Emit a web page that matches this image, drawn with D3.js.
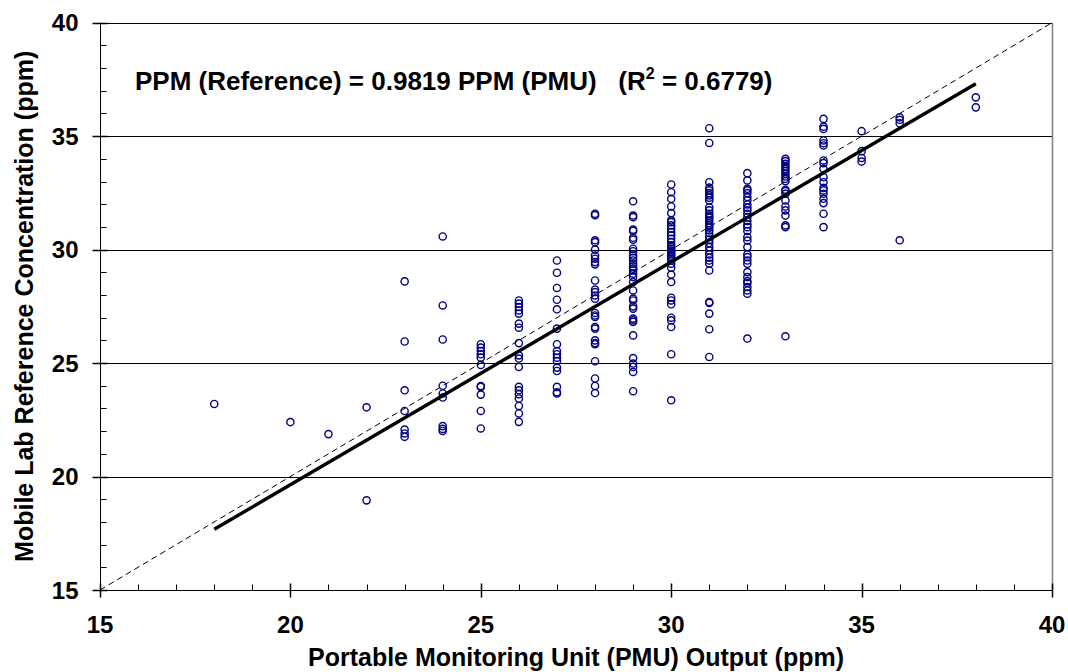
<!DOCTYPE html>
<html>
<head>
<meta charset="utf-8">
<script src="https://cdn.jsdelivr.net/npm/d3@7"></script>
<style>
  html, body { margin: 0; padding: 0; background: #fff; }
  svg { display: block; }
  text { font-family: "Liberation Sans", Arial, sans-serif; font-weight: bold; fill: #000; }
</style>
</head>
<body>
<svg id="chart" width="1068" height="672"></svg>
<script>
// ---- Data ----
const pmuLevels = [18, 20, 21, 22, 23, 24, 25, 26, 27, 28, 29, 30, 31, 32, 33, 34, 35, 36, 38];
const refByLevel = [
  [23.2],
  [22.4],
  [21.87],
  [23.05, 18.95],
  [28.6, 25.95, 23.8, 22.89, 22.07, 21.9, 21.75],
  [30.58, 27.54, 26.04, 24.0, 23.66, 23.48, 22.22, 22.1, 22.01],
  [25.83, 25.68, 25.53, 25.39, 25.24, 24.92, 23.99, 23.95, 23.61, 22.89, 22.12],
  [27.76, 27.62, 27.47, 27.32, 27.18, 26.74, 26.56, 25.88, 25.34, 25.2, 24.83, 23.95, 23.8, 23.63, 23.44, 23.11, 22.78, 22.41],
  [29.52, 28.98, 28.31, 27.79, 27.37, 26.52, 25.83, 25.53, 25.39, 25.24, 25.09, 24.8, 24.65, 23.95, 23.71, 23.66],
  [31.58, 31.52, 30.41, 30.33, 30.0, 29.74, 29.6, 29.45, 29.35, 28.64, 28.24, 28.13, 27.98, 27.84, 27.21, 27.1, 27.03, 26.59, 26.52, 26.0, 25.88, 25.83, 25.08, 24.32, 23.99, 23.68],
  [32.13, 31.5, 31.43, 30.88, 30.82, 30.52, 30.44, 30.04, 29.93, 29.74, 29.64, 29.52, 29.38, 29.26, 29.16, 29.08, 28.94, 28.79, 28.57, 28.2, 27.84, 27.76, 27.5, 27.4, 26.96, 26.88, 26.81, 26.22, 25.22, 24.98, 24.83, 24.61, 23.76],
  [32.87, 32.53, 32.24, 31.9, 31.61, 31.29, 31.21, 31.07, 30.92, 30.77, 30.63, 30.48, 30.33, 30.19, 30.11, 30.04, 29.96, 29.89, 29.82, 29.74, 29.67, 29.52, 29.38, 29.2, 28.9, 28.57, 27.88, 27.76, 27.59, 27.0, 26.88, 26.59, 25.39, 23.36],
  [35.35, 34.7, 32.97, 32.73, 32.61, 32.49, 32.39, 32.29, 32.17, 31.87, 31.73, 31.58, 31.5, 31.4, 31.29, 31.17, 31.07, 30.97, 30.85, 30.73, 30.58, 30.44, 30.29, 30.11, 29.96, 29.79, 29.64, 29.52, 29.38, 29.08, 27.69, 27.65, 27.18, 26.49, 25.27],
  [33.37, 33.05, 32.68, 32.61, 32.49, 32.32, 32.17, 31.99, 31.85, 31.73, 31.58, 31.43, 31.26, 31.11, 30.99, 30.82, 30.55, 30.4, 30.11, 29.79, 29.67, 29.52, 29.38, 29.01, 28.79, 28.61, 28.53, 28.35, 28.2, 28.06, 26.08],
  [34.0, 33.9, 33.78, 33.66, 33.56, 33.46, 33.34, 33.22, 33.12, 33.02, 32.64, 32.58, 32.46, 32.17, 31.9, 31.73, 31.5, 31.07, 30.99, 26.18],
  [35.76, 35.42, 35.32, 34.81, 34.69, 34.59, 33.93, 33.81, 33.56, 33.19, 32.97, 32.72, 32.61, 32.46, 32.24, 32.05, 31.58, 30.99],
  [35.22, 34.34, 34.04, 33.88],
  [35.83, 35.72, 35.57, 30.41],
  [36.71, 36.27]
];
const slope = 0.9819;
const rSquared = 0.6779;
const fitRange = [18, 38];
const identityRange = [15, 40];
const xDomain = [15, 40];
const yDomain = [15, 40];
const majorTicks = [15, 20, 25, 30, 35, 40];
const gridValues = [20, 25, 30, 35];
const xTitle = "Portable Monitoring Unit (PMU) Output (ppm)";
const yTitle = "Mobile Lab Reference Concentration (ppm)";

// ---- Layout ----
const svg = d3.select("#chart");
const L = 100, R = 1052, T = 22.7, B = 590;
const x = d3.scaleLinear().domain(xDomain).range([L, R]);
const y = d3.scaleLinear().domain(yDomain).range([B, T]);
const minorTicks = d3.range(xDomain[0], xDomain[1] + 1, 1);

const points = [];
pmuLevels.forEach((lv, i) => refByLevel[i].forEach(v => points.push({ x: lv, y: v })));

// gridlines
svg.append("g").selectAll("line").data(gridValues).join("line")
  .attr("x1", L).attr("x2", R)
  .attr("y1", d => Math.round(y(d)) + 0.5).attr("y2", d => Math.round(y(d)) + 0.5)
  .attr("stroke", "#000").attr("stroke-width", 1);

// frame top/right
svg.append("line").attr("x1", L).attr("x2", R).attr("y1", Math.round(T) + 0.5).attr("y2", Math.round(T) + 0.5)
  .attr("stroke", "#000");
svg.append("line").attr("x1", Math.round(R) + 0.5).attr("x2", Math.round(R) + 0.5).attr("y1", T).attr("y2", B)
  .attr("stroke", "#7f7f7f").attr("stroke-width", 1.5);

// identity dashed line
svg.append("line")
  .attr("x1", x(identityRange[0])).attr("y1", y(identityRange[0]))
  .attr("x2", x(identityRange[1])).attr("y2", y(identityRange[1]))
  .attr("stroke", "#000").attr("stroke-width", 1).attr("stroke-dasharray", "6,4");

// points
svg.append("g").selectAll("circle").data(points).join("circle")
  .attr("cx", d => x(d.x)).attr("cy", d => y(d.y)).attr("r", 3.6)
  .attr("fill", "none").attr("stroke", "#000080").attr("stroke-width", 1.4);

// regression line
svg.append("line")
  .attr("x1", x(fitRange[0])).attr("y1", y(slope * fitRange[0]))
  .attr("x2", x(fitRange[1])).attr("y2", y(slope * fitRange[1]))
  .attr("stroke", "#000").attr("stroke-width", 3.4);

// x axis
const xAxisG = svg.append("g").attr("transform", `translate(0,${Math.round(B) + 0.5})`);
xAxisG.append("line").attr("x1", L).attr("x2", R).attr("stroke", "#000");
xAxisG.selectAll(".minor").data(minorTicks).join("line")
  .attr("x1", d => Math.round(x(d)) + 0.5).attr("x2", d => Math.round(x(d)) + 0.5)
  .attr("y1", 0).attr("y2", -6).attr("stroke", "#000");
xAxisG.selectAll(".major").data(majorTicks).join("line")
  .attr("x1", d => Math.round(x(d)) + 0.5).attr("x2", d => Math.round(x(d)) + 0.5)
  .attr("y1", -7).attr("y2", 7).attr("stroke", "#000").attr("stroke-width", 1.5);
xAxisG.selectAll("text").data(majorTicks).join("text")
  .attr("x", d => x(d)).attr("y", 42).attr("text-anchor", "middle")
  .style("font-size", "24px").text(d => d);

// y axis
const yAxisG = svg.append("g").attr("transform", `translate(${Math.round(L) + 0.5},0)`);
yAxisG.append("line").attr("y1", T).attr("y2", B).attr("stroke", "#000");
yAxisG.selectAll(".minor").data(minorTicks).join("line")
  .attr("y1", d => Math.round(y(d)) + 0.5).attr("y2", d => Math.round(y(d)) + 0.5)
  .attr("x1", 0).attr("x2", 6).attr("stroke", "#000");
yAxisG.selectAll(".major").data(majorTicks).join("line")
  .attr("y1", d => Math.round(y(d)) + 0.5).attr("y2", d => Math.round(y(d)) + 0.5)
  .attr("x1", -8).attr("x2", 7).attr("stroke", "#000").attr("stroke-width", 1.5);
yAxisG.selectAll("text").data(majorTicks).join("text")
  .attr("x", -22).attr("y", d => y(d) + 8.5).attr("text-anchor", "end")
  .style("font-size", "24px").text(d => d);

// axis titles
svg.append("text").attr("x", (L + R) / 2).attr("y", 666).attr("text-anchor", "middle")
  .style("font-size", "25px").text(xTitle);
svg.append("text").attr("transform", `translate(33,${(T + B) / 2}) rotate(-90)`).attr("text-anchor", "middle")
  .style("font-size", "25px").text(yTitle);

// equation annotation
const eq = svg.append("text").attr("x", 135).attr("y", 90).style("font-size", "26px");
eq.append("tspan").text(`PPM (Reference) = ${slope} PPM (PMU)\u00a0\u00a0\u00a0(R`);
eq.append("tspan").attr("dy", -11).style("font-size", "16px").text("2");
eq.append("tspan").attr("dy", 11).text(` = ${rSquared})`);
</script>
</body>
</html>
